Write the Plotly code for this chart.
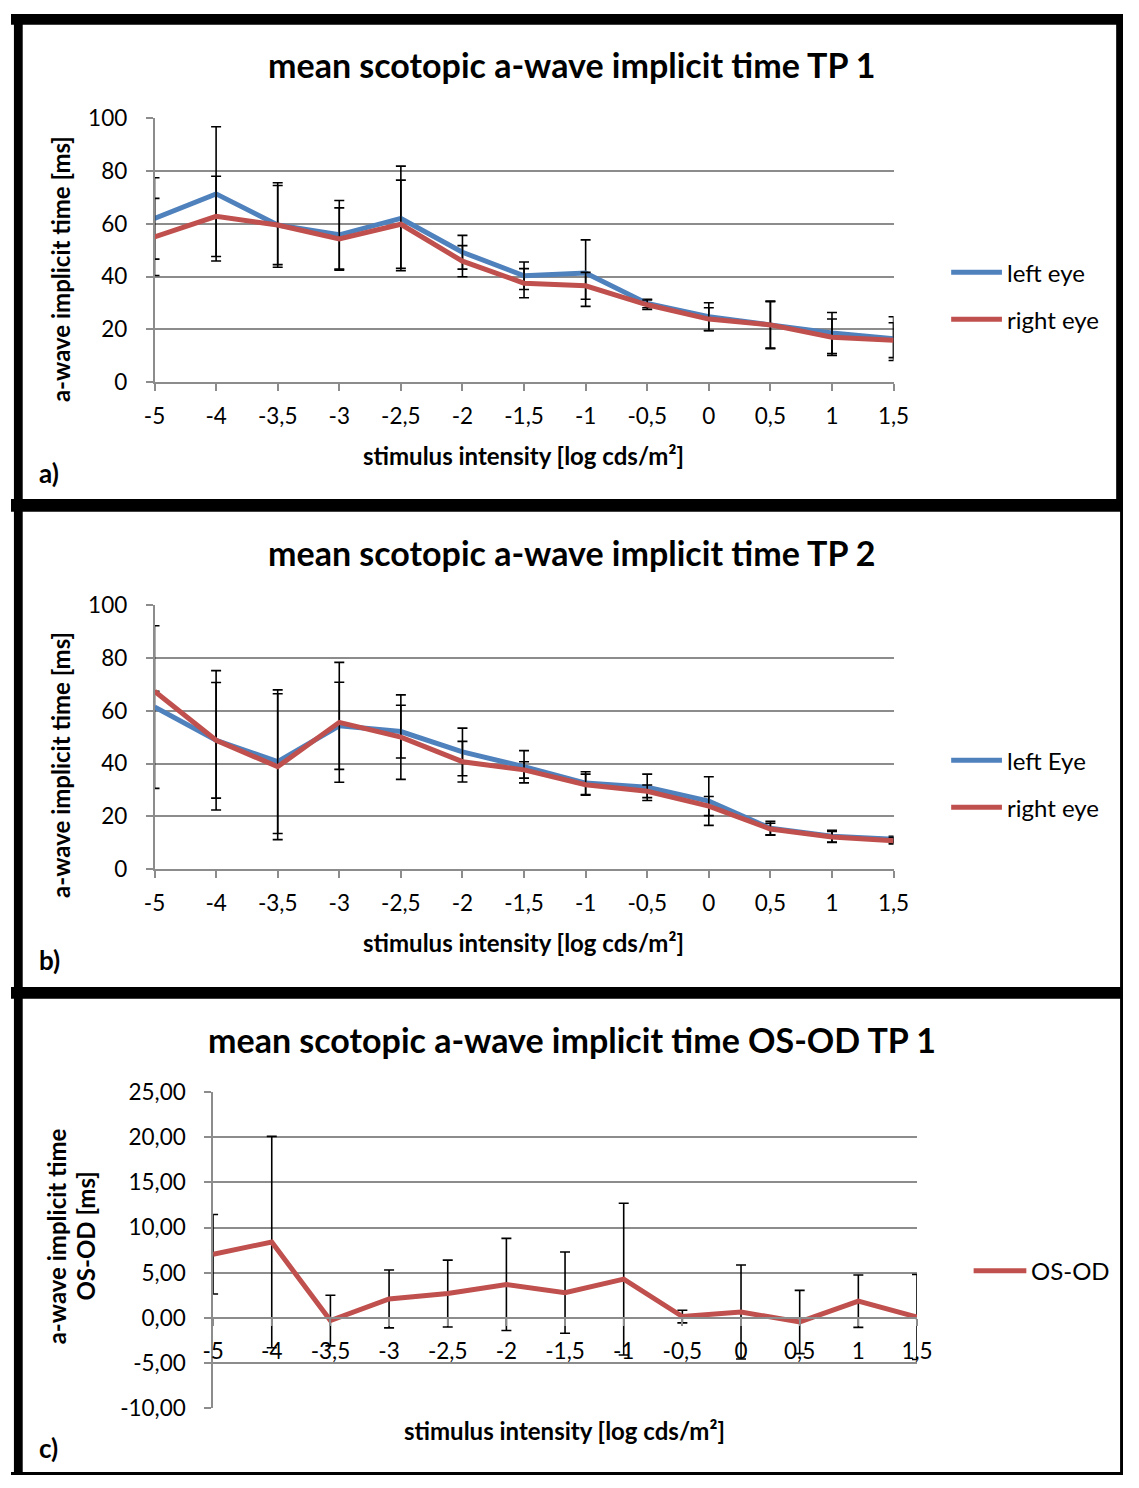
import plotly.graph_objects as go

# ---------------- data ----------------
categories = ["-5", "-4", "-3,5", "-3", "-2,5", "-2", "-1,5", "-1", "-0,5", "0", "0,5", "1", "1,5"]

tp1_left = [62.0, 71.3, 59.5, 55.8, 62.0, 49.2, 40.3, 41.3, 29.8, 24.8, 21.7, 18.6, 16.5]
tp1_left_err = [15.4, 25.4, 16.0, 13.0, 19.8, 6.4, 5.2, 12.6, 1.6, 5.3, 9.0, 7.8, 8.3]
tp1_right = [55.0, 62.8, 59.5, 54.2, 59.8, 45.8, 37.5, 36.5, 29.3, 23.9, 21.7, 17.0, 15.9]
tp1_right_err = [14.6, 15.2, 15.0, 11.8, 16.7, 5.9, 5.5, 5.1, 1.8, 4.3, 8.8, 6.9, 6.6]

tp2_left = [61.4, 48.8, 40.7, 54.3, 52.1, 44.4, 38.8, 32.6, 31.0, 25.8, 15.5, 12.5, 11.3]
tp2_left_err = [30.8, 26.4, 27.2, 16.5, 10.0, 9.0, 6.1, 4.3, 5.0, 9.2, 2.6, 2.2, 1.2]
tp2_right = [67.4, 48.8, 38.8, 55.6, 50.0, 40.7, 37.6, 32.0, 29.5, 23.9, 15.2, 12.2, 10.8]
tp2_right_err = [0.0, 21.9, 27.6, 22.7, 16.0, 7.7, 3.1, 4.0, 2.4, 3.6, 2.2, 2.1, 1.2]

osod = [7.05, 8.4, -0.3, 2.1, 2.7, 3.7, 2.8, 4.3, 0.15, 0.65, -0.45, 1.85, 0.1]
osod_err = [4.4, 11.7, 2.8, 3.2, 3.7, 5.1, 4.5, 8.4, 0.7, 5.2, 3.5, 2.9, 4.7]

ab_yticks = [0, 20, 40, 60, 80, 100]
c_yticks = [-10, -5, 0, 5, 10, 15, 20, 25]
c_yticklabels = ["-10,00", "-5,00", "0,00", "5,00", "10,00", "15,00", "20,00", "25,00"]

titles = ["mean scotopic a-wave implicit time TP 1",
          "mean scotopic a-wave implicit time TP 2",
          "mean scotopic a-wave implicit time OS-OD TP 1"]

# ---------------- styling ----------------
W, H = 1139, 1488
BLUE = "#4F81BD"
RED = "#C0504D"
GRID = "#8C8C8C"
FONT = "Lato"

def px(x):
    return x / W

def py(y):
    return 1 - y / H

fig = go.Figure()

def err(arr):
    return dict(type="data", array=arr, visible=True, color="black", thickness=1.6, width=5)

def line_trace(y, e, color, name, xa, ya):
    return go.Scatter(x=categories, y=y, mode="lines", name=name,
                      line=dict(color=color, width=5),
                      error_y=err(e), xaxis=xa, yaxis=ya, showlegend=False)

fig.add_trace(line_trace(tp1_left, tp1_left_err, BLUE, "left eye", "x", "y"))
fig.add_trace(line_trace(tp1_right, tp1_right_err, RED, "right eye", "x", "y"))
fig.add_trace(line_trace(tp2_left, tp2_left_err, BLUE, "left Eye", "x2", "y2"))
fig.add_trace(line_trace(tp2_right, tp2_right_err, RED, "right eye", "x2", "y2"))
fig.add_trace(line_trace(osod, osod_err, RED, "OS-OD", "x3", "y3"))

tickfont = dict(family=FONT, size=22.5, color="black")

def xaxis(domain, anchor, position=None):
    d = dict(domain=domain, type="category", range=[0, 12], showgrid=False,
             showline=True, linecolor=GRID, linewidth=1.5,
             ticks="outside", ticklen=7, tickcolor=GRID, tickwidth=1.5,
             tickfont=tickfont, zeroline=False, fixedrange=True,
             categoryorder="array", categoryarray=categories, ticklabelstandoff=6)
    if position is not None:
        d.update(anchor="free", position=position)
    else:
        d.update(anchor=anchor)
    return d

def yaxis(domain, anchor, rng, vals, texts=None):
    d = dict(domain=domain, anchor=anchor, range=rng, showgrid=True, gridcolor=GRID,
             gridwidth=1.5, showline=True, linecolor=GRID, linewidth=1.5,
             ticks="outside", ticklen=7, tickcolor=GRID, tickwidth=1.5,
             tickvals=vals, tickfont=tickfont, zeroline=False, fixedrange=True,
             ticklabelstandoff=14)
    if texts is not None:
        d["ticktext"] = texts
    return d

xa_dom = [px(147), px(904)]
xc_dom = [px(207), px(928)]
ya_dom = [py(375), py(106)]
yb_dom = [py(871), py(602)]
yc_dom = [py(1420), py(1098)]
pos0 = yc_dom[0] + (0 - (-10)) / 35 * (yc_dom[1] - yc_dom[0])

fig.update_layout(
    width=W, height=H, margin=dict(l=0, r=0, t=0, b=0),
    paper_bgcolor="white", plot_bgcolor="white", showlegend=False,
    xaxis=xaxis(xa_dom, "y"),
    yaxis=yaxis(ya_dom, "x", [0, 100], ab_yticks),
    xaxis2=xaxis(xa_dom, "y2"),
    yaxis2=yaxis(yb_dom, "x2", [0, 100], ab_yticks),
    xaxis3=xaxis(xc_dom, None, position=pos0),
    yaxis3=yaxis(yc_dom, "x3", [-10, 25], c_yticks, c_yticklabels),
)

ann = []
def text(x, y, t, size, bold=False, angle=0, xanchor="center", yanchor="middle"):
    s = f"<b>{t}</b>" if bold else t
    ann.append(dict(x=px(x), y=py(y), xref="paper", yref="paper", text=s, showarrow=False,
                    textangle=angle, xanchor=xanchor, yanchor=yanchor,
                    font=dict(family=FONT, size=size, color="black")))

# titles
text(575, 51, titles[0], 34, bold=True)
text(575, 548, titles[1], 34, bold=True)
text(575, 1044, titles[2], 34, bold=True)
# y titles
text(50, 260, "a-wave implicit time [ms]", 24, bold=True, angle=-90)
text(50, 765, "a-wave implicit time [ms]", 24, bold=True, angle=-90)
text(46, 1245, "a-wave implicit time", 24, bold=True, angle=-90)
text(76, 1245, "OS-OD [ms]", 24, bold=True, angle=-90)
# x titles
text(525, 450, "stimulus intensity [log cds/m²]", 24, bold=True)
text(525, 946, "stimulus intensity [log cds/m²]", 24, bold=True)
text(567, 1443, "stimulus intensity [log cds/m²]", 24, bold=True)
# panel letters
text(27, 467, "a)", 26, bold=True, xanchor="left")
text(27, 963, "b)", 26, bold=True, xanchor="left")
text(27, 1460, "c)", 26, bold=True, xanchor="left")

shapes = []
def legend_item(x0, x1, y, color, label):
    shapes.append(dict(type="line", xref="paper", yref="paper", x0=px(x0), x1=px(x1),
                       y0=py(y), y1=py(y), line=dict(color=color, width=5)))
    text(x1 + 3, y, label, 24, xanchor="left")

legend_item(963, 1015, 263, BLUE, "left eye")
legend_item(963, 1015, 311, RED, "right eye")
legend_item(963, 1015, 760, BLUE, "left Eye")
legend_item(963, 1015, 808, RED, "right eye")
legend_item(986, 1040, 1280, RED, "OS-OD")

def band(x0, y0, x1, y1):
    shapes.append(dict(type="rect", xref="paper", yref="paper", x0=px(x0), x1=px(x1),
                       y0=py(y0), y1=py(y1), fillcolor="black", line=dict(width=0), layer="above"))

band(0, 0, W, 11)        # top
band(3, 0, 12, H)        # left
band(1132, 0, W, 500)    # right of panel a
band(1136, 500, W, H)    # right thin
band(0, 494, W, 507)     # separator a/b
band(0, 991, W, 1003)    # separator b/c
band(0, 1485, W, H)      # bottom

fig.update_layout(annotations=ann, shapes=shapes)
post = ("document.documentElement.style.margin='0';document.documentElement.style.padding='0';"
        "document.body.style.margin='0';document.body.style.padding='0';"
        "document.body.style.overflow='hidden';document.documentElement.style.overflow='hidden';"
        "var d=document.getElementById('{plot_id}');d.style.position='fixed';"
        "d.style.left='0px';d.style.top='0px';")
fig.write_html("out.html", config={"displayModeBar": False}, post_script=post)
